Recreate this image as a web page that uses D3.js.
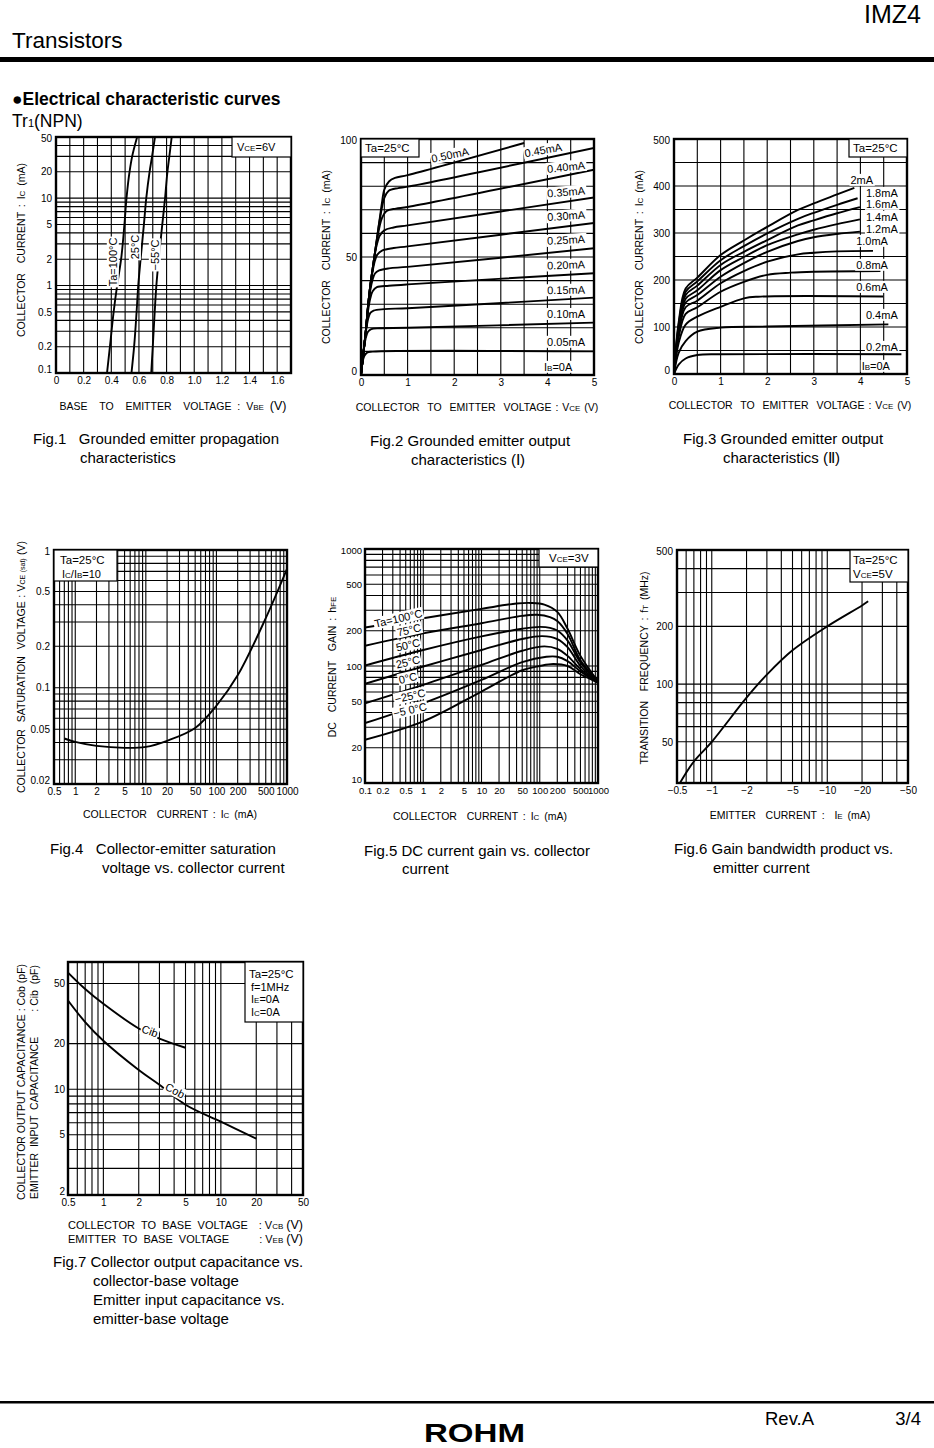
<!DOCTYPE html>
<html><head><meta charset="utf-8">
<script src="https://cdn.jsdelivr.net/npm/d3@7"></script>
<style>
body{margin:0;background:#fff;}
svg{font-family:"Liberation Sans", Arial, Helvetica, sans-serif;}
text{fill:#000;}
</style></head><body>
<svg id="page" width="934" height="1448"></svg>
<script>
// ---------------- DATA ----------------
// Fig.1  Ic vs Vbe (VCE=6V)
const fig1XTicks = [0,0.2,0.4,0.6,0.8,1.0,1.2,1.4,1.6];
const fig1YTicks = [0.1,0.2,0.5,1,2,5,10,20,50];
const fig1Ta100 = [[0.369,0.1],[0.39,0.2],[0.417,0.5],[0.442,1],[0.471,2],[0.495,5],[0.51,10],[0.532,20],[0.551,30],[0.587,50]];
const fig1Ta25  = [[0.546,0.1],[0.565,0.2],[0.583,0.5],[0.595,1],[0.612,2],[0.636,5],[0.653,10],[0.677,20],[0.695,30],[0.716,50]];
const fig1Tam55 = [[0.689,0.1],[0.700,0.2],[0.714,0.5],[0.726,1],[0.743,2],[0.769,5],[0.789,10],[0.806,20],[0.820,30],[0.837,50]];

// Fig.2  Ic vs Vce (IB = 0.05 ... 0.50 mA)
const fig2XTicks = [0,1,2,3,4,5];
const fig2YTicks = [0,50,100];
const fig2IB005 = [[0,0],[0.03,5],[0.07,8],[0.13,9.5],[0.25,9.9],[5,10]];
const fig2IB010 = [[0,0],[0.05,9],[0.1,15.5],[0.15,18.3],[0.22,19.4],[0.4,19.8],[1,20],[5,22.2]];
const fig2IB015 = [[0,0],[0.05,9],[0.1,17.5],[0.15,23.5],[0.2,26.3],[0.27,27.3],[0.5,27.9],[1,28.3],[5,32.8]];
const fig2IB020 = [[0,0],[0.05,9],[0.1,18],[0.15,27],[0.2,32.5],[0.25,35.5],[0.34,37.2],[0.6,37.8],[1,38.4],[5,43.1]];
const fig2IB025 = [[0,0],[0.05,9],[0.1,18],[0.15,28.5],[0.2,36],[0.25,40.5],[0.3,43],[0.39,44.3],[0.6,45.2],[1,45.8],[5,53.7]];
const fig2IB030 = [[0,0],[0.05,9],[0.1,18],[0.15,29],[0.2,37.5],[0.25,44],[0.3,48.5],[0.35,51],[0.46,52.8],[0.7,53.8],[1,54.5],[5,64.4]];
const fig2IB035 = [[0,0],[0.05,9],[0.1,18],[0.15,29],[0.2,38],[0.25,45],[0.3,51.5],[0.35,56],[0.4,59],[0.5,61.3],[0.7,62.5],[1,63.4],[5,75.2]];
const fig2IB040 = [[0,0],[0.05,9],[0.1,18],[0.15,29],[0.2,38],[0.25,45],[0.3,52],[0.35,58],[0.4,63],[0.45,66.5],[0.55,69.5],[0.75,70.5],[1,71.2],[5,87]];
const fig2IB045 = [[0,0],[0.05,9],[0.1,18],[0.15,29],[0.2,38],[0.25,45],[0.3,52],[0.35,59],[0.4,65.5],[0.45,71],[0.5,75],[0.59,78],[0.8,79.2],[1,79.8],[5,96.2]];
const fig2IB050 = [[0,0],[0.05,9],[0.1,18],[0.15,29],[0.2,38],[0.25,45],[0.3,52],[0.35,59],[0.4,66],[0.45,73],[0.5,78.5],[0.6,82],[0.73,83.5],[1,84.7],[3.5,98.3]];
const fig2Labels = ["0.50mA","0.45mA","0.40mA","0.35mA","0.30mA","0.25mA","0.20mA","0.15mA","0.10mA","0.05mA"];

// Fig.3  Ic vs Vce (IB = 0.2 ... 2 mA)
const fig3XTicks = [0,1,2,3,4,5];
const fig3YTicks = [0,100,200,300,400,500];
const fig3IB02 = [[0,0],[0.1,20],[0.25,33],[0.5,40.4],[1,42],[4.88,42]];
const fig3IB04 = [[0,0],[0.1,45],[0.25,70],[0.5,90],[1,98.6],[2,101],[4.6,105.5]];
const fig3IB06 = [[0,0],[0.1,66],[0.25,105],[0.5,122],[1,143],[1.5,161],[1.8,164.5],[4.49,165]];
const fig3IB08 = [[0,0],[0.1,78],[0.25,128],[0.5,142],[1,175],[1.5,196],[2,211],[2.5,215.6],[3,217.5],[4.43,219]];
const fig3IB10 = [[0,0],[0.1,85],[0.25,142],[0.5,156],[1,193],[1.5,219],[2,239],[2.66,254.6],[3,258],[3.5,261],[4.27,262]];
const fig3IB12 = [[0,0],[0.1,90],[0.25,152],[0.5,168],[1,207],[1.5,236],[2,260],[2.66,283],[3,291],[3.5,298],[3.99,303]];
const fig3IB14 = [[0,0],[0.1,95],[0.25,160],[0.5,178],[1,221],[1.5,249],[2,274],[2.66,297],[3,307],[3.5,319],[3.99,329]];
const fig3IB16 = [[0,0],[0.1,100],[0.25,168],[0.5,188],[1,232],[1.5,260],[2,285],[2.66,316],[3,327],[3.5,342],[3.99,355]];
const fig3IB18 = [[0,0],[0.1,105],[0.25,175],[0.5,197],[1,242],[1.5,272],[2,299],[2.66,330],[3,343],[3.5,360],[3.94,374]];
const fig3IB20 = [[0,0],[0.1,110],[0.25,182],[0.5,205],[1,253],[1.5,284],[2,313],[2.66,349],[3,363],[3.5,382],[3.87,396]];
const fig3Labels = ["2mA","1.8mA","1.6mA","1.4mA","1.2mA","1.0mA","0.8mA","0.6mA","0.4mA","0.2mA"];

// Fig.4  VCE(sat) vs Ic
const fig4XTicks = [0.5,1,2,5,10,20,50,100,200,500,1000];
const fig4YTicks = [0.02,0.05,0.1,0.2,0.5,1];
const fig4Vsat = [[0.7,0.0428],[1,0.0404],[2,0.0378],[5,0.0366],[10,0.0372],[20,0.0412],[50,0.051],[100,0.074],[200,0.123],[500,0.32],[1000,0.73]];

// Fig.5  hFE vs Ic
const fig5XTicks = [0.1,0.2,0.5,1,2,5,10,20,50,100,200,500,1000];
const fig5YTicks = [10,20,50,100,200,500,1000];
const fig5Ta100 = [[0.1,213],[1,256],[10,308],[40,342],[70,346],[120,335],[200,290],[300,208],[500,122],[1000,74]];
const fig5Ta75  = [[0.1,149],[1,190],[10,232],[50,268],[90,274],[150,262],[200,242],[300,188],[500,112],[1000,74]];
const fig5Ta50  = [[0.1,101],[1,137],[10,179],[50,208],[100,216],[150,212],[200,201],[300,165],[500,107],[1000,72]];
const fig5Ta25  = [[0.1,70.5],[1,99],[10,137],[50,170],[110,180],[200,170],[300,145],[500,100],[1000,72]];
const fig5Ta0   = [[0.1,48],[1,69],[10,102],[50,135],[120,147],[200,140],[300,122],[500,94],[1000,72]];
const fig5Tam25 = [[0.1,32.5],[1,48],[10,76],[50,108],[130,120],[200,120],[300,110],[500,90],[1000,72]];
const fig5Tam50 = [[0.1,23.4],[1,33.6],[10,60.5],[50,92],[100,100],[170,104],[300,100],[500,85],[1000,72]];
const fig5Labels = ["Ta=100°C","75°C","50°C","25°C","0°C","−25°C","−5 0°C"];

// Fig.6  fT vs IE
const fig6XTicks = [-0.5,-1,-2,-5,-10,-20,-50];
const fig6YTicks = [50,100,200,500];
const fig6fT = [[-0.53,30.5],[-0.7,39.5],[-1,50],[-2,85],[-3,112],[-5,150],[-10,200],[-20,257],[-22.6,270]];

// Fig.7  Cob / Cib vs V
const fig7XTicks = [0.5,1,2,5,10,20,50];
const fig7YTicks = [2,5,10,20,50];
const fig7YGrid = [2,3,4,5,6,7,8,9,10,20,50];
const fig7Cib = [[0.5,59],[0.7,46],[1,36.7],[2,25.2],[3,21.6],[5,18.8]];
const fig7Cob = [[0.5,38.6],[0.7,27.8],[1,20.9],[2,13.4],[3,10.7],[5,7.9],[10,6.1],[20,4.72]];

// ---------------- HELPERS ----------------
const svg = d3.select('#page');
let clipId = 0;

function logGrid(lo, hi){
  const out=[];
  for(let e=-3;e<=4;e++) for(let m=1;m<10;m++){
    const v=+(m*Math.pow(10,e)).toPrecision(3);
    if(v>=lo*0.999 && v<=hi*1.001) out.push(v);
  }
  return out;
}
function rangeStep(a,b,s){const o=[];for(let v=a;v<=b+1e-9;v+=s)o.push(+v.toFixed(4));return o;}

function rich(g, x, y, parts, o={}){
  const size=o.size||10, small=o.small||Math.round(size*0.72);
  const t=g.append('text')
    .attr('font-size',size)
    .attr('text-anchor',o.anchor||'start')
    .attr('transform',`translate(${x},${y}) rotate(${o.rotate||0})`)
    .style('white-space','pre');
  if(o.central) t.attr('dy','0.35em');
  if(o.ws!==undefined) t.attr('word-spacing',o.ws);
  if(o.ls) t.attr('letter-spacing',o.ls);
  parts.forEach(p=>{
    if(typeof p==='string') t.append('tspan').text(p);
    else t.append('tspan').attr('font-size',p[1]||small).text(p[0]);
  });
  if(o.bg){
    const b=t.node().getBBox();
    g.insert('rect',()=>t.node())
      .attr('x',b.x-1).attr('y',b.y).attr('width',b.width+2).attr('height',b.height)
      .attr('fill','#fff').attr('transform',t.attr('transform'));
  }
  return t;
}

function chart(cfg){
  const g=svg.append('g');
  const [x0,x1,y0,y1]=cfg.box;
  const xs=(cfg.xlog?d3.scaleLog():d3.scaleLinear()).domain(cfg.xdom).range([x0,x1]);
  const ys=(cfg.ylog?d3.scaleLog():d3.scaleLinear()).domain(cfg.ydom).range([y1,y0]);
  const id='clip'+(clipId++);
  g.append('clipPath').attr('id',id).append('rect').attr('x',x0).attr('y',y0).attr('width',x1-x0).attr('height',y1-y0);
  const grid=g.append('g').attr('stroke','#000').attr('stroke-width',1.1);
  grid.selectAll(null).data(cfg.xgrid).join('line')
    .attr('x1',d=>xs(d)).attr('x2',d=>xs(d)).attr('y1',y0).attr('y2',y1);
  grid.selectAll(null).data(cfg.ygrid).join('line')
    .attr('y1',d=>ys(d)).attr('y2',d=>ys(d)).attr('x1',x0).attr('x2',x1);
  const ax=g.append('g').attr('transform',`translate(0,${y1})`)
    .call(d3.axisBottom(xs).tickValues(cfg.xticks).tickSize(0).tickPadding(cfg.xpad||4).tickFormat(cfg.xfmt||(d=>String(d))));
  ax.select('.domain').remove();
  ax.selectAll('text').attr('font-size',cfg.tsize||10).attr('font-family',null);
  const ay=g.append('g').attr('transform',`translate(${x0},0)`)
    .call(d3.axisLeft(ys).tickValues(cfg.yticks).tickSize(0).tickPadding(cfg.ypad||4).tickFormat(cfg.yfmt||(d=>String(d))));
  ay.select('.domain').remove();
  ay.selectAll('text').attr('font-size',cfg.tsize||10).attr('font-family',null)
    .attr('y',d=>Math.abs(ys(d)-y1)<1?-3.5:(Math.abs(ys(d)-y0)<1?1.5:0));
  const line=d3.line().x(d=>xs(d[0])).y(d=>ys(d[1])).curve(cfg.curve||d3.curveCatmullRom.alpha(0.5));
  const cg=g.append('g').attr('clip-path',`url(#${id})`);
  cfg.series.forEach(s=>{
    cg.append('path').datum(s).attr('d',line).attr('fill','none').attr('stroke','#000').attr('stroke-width',1.9).attr('stroke-linejoin','round');
  });
  g.append('rect').attr('x',x0).attr('y',y0).attr('width',x1-x0).attr('height',y1-y0)
    .attr('fill','none').attr('stroke','#000').attr('stroke-width',2.4);
  return {g,xs,ys};
}
function legendBox(g, x, y, w, h){
  g.append('rect').attr('x',x).attr('y',y).attr('width',w).attr('height',h).attr('fill','#fff').attr('stroke','#000').attr('stroke-width',1.2);
}
const TS=10.5, WS=2;

// ---------------- PAGE HEADER ----------------
svg.append('text').attr('x',921).attr('y',23).attr('text-anchor','end').attr('font-size',25).text('IMZ4');
svg.append('text').attr('x',12).attr('y',48).attr('font-size',22.5).text('Transistors');
svg.append('rect').attr('x',0).attr('y',57).attr('width',934).attr('height',5).attr('fill','#000');
svg.append('text').attr('x',12).attr('y',105).attr('font-size',17.5).attr('font-weight','bold').text('●Electrical characteristic curves');
rich(svg,12,127,['Tr',['1',11],'(NPN)'],{size:17.5});

// ---------------- FIG 1 ----------------
{
  const c=chart({box:[56,291,137,373],xdom:[0,1.7],ydom:[0.1,50],ylog:true,
    xgrid:rangeStep(0,1.7,0.1),ygrid:logGrid(0.1,50),xticks:fig1XTicks,yticks:fig1YTicks,
    xfmt:d=>d===0?'0':d.toFixed(1),series:[fig1Ta100,fig1Ta25,fig1Tam55],curve:d3.curveMonotoneY});
  const {g,xs,ys}=c;
  legendBox(g,232,137,59,20);
  rich(g,237,151,['V',['CE'],'=6V'],{size:11});
  rich(g,xs(0.412),ys(1.86),['Ta=100°C'],{size:11,anchor:'middle',rotate:-90,central:true,bg:true});
  rich(g,xs(0.572),ys(2.76),['25°C'],{size:11,anchor:'middle',rotate:-90,central:true,bg:true});
  rich(g,xs(0.716),ys(2.24),['−55°C'],{size:11,anchor:'middle',rotate:-90,central:true,bg:true});
  rich(g,25,250,['COLLECTOR  CURRENT : I',['C'],' (mA)'],{size:TS,anchor:'middle',rotate:-90,ws:WS});
  rich(g,173,410,['BASE  TO  EMITTER  VOLTAGE : V',['BE'],' ',['(V)',12.5]],{size:TS,anchor:'middle',ws:WS+1});
  rich(g,33,444,['Fig.1   Grounded emitter propagation'],{size:15});
  rich(g,80,463,['characteristics'],{size:15});
}

// ---------------- FIG 2 ----------------
{
  const c=chart({box:[361,594,139,375],xdom:[0,5],ydom:[0,100],
    xgrid:rangeStep(0,5,0.5),ygrid:rangeStep(0,100,10),xticks:fig2XTicks,yticks:fig2YTicks,
    series:[fig2IB005,fig2IB010,fig2IB015,fig2IB020,fig2IB025,fig2IB030,fig2IB035,fig2IB040,fig2IB045,fig2IB050]});
  const {g,xs,ys}=c;
  legendBox(g,361,139,58,18);
  rich(g,365,152,['Ta=25°C'],{size:11.5});
  const pos=[[1.91,93.2,-12],[3.91,95.3,-10],[4.4,88.1,-6],[4.4,77.5,-5],[4.4,67.4,-4],[4.4,57.2,-3],[4.4,46.6,-2],[4.4,36,-1],[4.4,25.8,0],[4.4,14,0]];
  fig2Labels.forEach((t,i)=>rich(g,xs(pos[i][0]),ys(pos[i][1]),[t],{size:11,anchor:'middle',central:true,rotate:pos[i][2],bg:true}));
  rich(g,xs(4.23),ys(3.4),['I',['B'],'=0A'],{size:11,anchor:'middle',central:true,bg:true});
  rich(g,330,257,['COLLECTOR  CURRENT : I',['C'],' (mA)'],{size:TS,anchor:'middle',rotate:-90,ws:WS});
  rich(g,477,411,['COLLECTOR  TO  EMITTER  VOLTAGE : V',['CE'],' (V)'],{size:TS,anchor:'middle',ws:1});
  rich(g,370,446,['Fig.2 Grounded emitter output'],{size:15});
  rich(g,411,465,['characteristics (Ⅰ)'],{size:15});
}

// ---------------- FIG 3 ----------------
{
  const c=chart({box:[674,907,139,374],xdom:[0,5],ydom:[0,500],
    xgrid:rangeStep(0,5,0.5),ygrid:rangeStep(0,500,50),xticks:fig3XTicks,yticks:fig3YTicks,
    series:[fig3IB02,fig3IB04,fig3IB06,fig3IB08,fig3IB10,fig3IB12,fig3IB14,fig3IB16,fig3IB18,fig3IB20]});
  const {g,xs,ys}=c;
  legendBox(g,849,139,58,18);
  rich(g,853,152,['Ta=25°C'],{size:11.5});
  const pos=[[4.03,412.8],[4.46,385],[4.46,361.7],[4.46,334],[4.46,308.5],[4.25,283],[4.25,232],[4.25,185],[4.46,125.5],[4.46,57.4]];
  fig3Labels.forEach((t,i)=>rich(g,xs(pos[i][0]),ys(pos[i][1]),[t],{size:11,anchor:'middle',central:true,bg:true}));
  rich(g,xs(4.33),ys(17),['I',['B'],'=0A'],{size:11,anchor:'middle',central:true,bg:true});
  rich(g,643,257,['COLLECTOR  CURRENT : I',['C'],' (mA)'],{size:TS,anchor:'middle',rotate:-90,ws:WS});
  rich(g,790,409,['COLLECTOR  TO  EMITTER  VOLTAGE : V',['CE'],' (V)'],{size:TS,anchor:'middle',ws:1});
  rich(g,683,444,['Fig.3 Grounded emitter output'],{size:15});
  rich(g,723,463,['characteristics (Ⅱ)'],{size:15});
}

// ---------------- FIG 4 ----------------
{
  const c=chart({box:[54,287,550,784],xdom:[0.5,1000],xlog:true,ydom:[0.02,1],ylog:true,
    xgrid:logGrid(0.5,1000),ygrid:logGrid(0.02,1),xticks:fig4XTicks,yticks:fig4YTicks,
    series:[fig4Vsat]});
  const {g}=c;
  legendBox(g,54,550,63,31);
  rich(g,60,564,['Ta=25°C'],{size:11.5});
  rich(g,62,578,['I',['C'],'/I',['B'],'=10'],{size:11});
  rich(g,25,667,['COLLECTOR  SATURATION  VOLTAGE : V',['CE (sat)',7],' (V)'],{size:TS,anchor:'middle',rotate:-90,ws:0.5});
  rich(g,170,818,['COLLECTOR  CURRENT : I',['C'],' (mA)'],{size:TS,anchor:'middle',ws:WS});
  rich(g,50,854,['Fig.4   Collector-emitter saturation'],{size:15});
  rich(g,102,873,['voltage vs. collector current'],{size:15});
}

// ---------------- FIG 5 ----------------
{
  const c=chart({box:[365,598,549,783],xdom:[0.1,1000],xlog:true,ydom:[10,1000],ylog:true,
    xgrid:logGrid(0.1,1000),ygrid:logGrid(10,1000),xticks:fig5XTicks,yticks:fig5YTicks,ypad:3,tsize:9.5,
    series:[fig5Ta100,fig5Ta75,fig5Ta50,fig5Ta25,fig5Ta0,fig5Tam25,fig5Tam50]});
  const {g,xs,ys}=c;
  legendBox(g,539,549,59,18);
  rich(g,549,562,['V',['CE'],'=3V'],{size:11.5});
  const pos=[[0.376,254.7],[0.569,203],[0.547,151],[0.547,108],[0.547,78.9],[0.593,55.4],[0.593,42.1]];
  fig5Labels.forEach((t,i)=>rich(g,xs(pos[i][0]),ys(pos[i][1]),[t],{size:11,anchor:'middle',central:true,rotate:-13,bg:true}));
  rich(g,336,667,['DC  CURRENT  GAIN : h',['FE']],{size:TS,anchor:'middle',rotate:-90,ws:WS});
  rich(g,480,820,['COLLECTOR  CURRENT : I',['C'],' (mA)'],{size:TS,anchor:'middle',ws:WS});
  rich(g,364,856,['Fig.5 DC current gain vs. collector'],{size:15});
  rich(g,402,874,['current'],{size:15});
}

// ---------------- FIG 6 ----------------
{
  const xgrid=logGrid(0.5,50).map(v=>-v);
  const c=chart({box:[677,908,550,783],xdom:[-0.5,-50],xlog:true,ydom:[30.5,500],ylog:true,
    xgrid:xgrid,ygrid:logGrid(30.5,500),xticks:fig6XTicks,yticks:fig6YTicks,
    xfmt:d=>'−'+Math.abs(d),series:[fig6fT]});
  const {g}=c;
  legendBox(g,850,550,58,32);
  rich(g,853,564,['Ta=25°C'],{size:11.5});
  rich(g,853,578,['V',['CE'],'=5V'],{size:11.5});
  rich(g,648,668,['TRANSITION  FREQUENCY : f',['T'],' (MHz)'],{size:TS,anchor:'middle',rotate:-90,ws:WS});
  rich(g,790,819,['EMITTER  CURRENT :  I',['E'],' (mA)'],{size:TS,anchor:'middle',ws:WS});
  rich(g,674,854,['Fig.6 Gain bandwidth product vs.'],{size:15});
  rich(g,713,873,['emitter current'],{size:15});
}

// ---------------- FIG 7 ----------------
{
  const c=chart({box:[68,303,962,1195],xdom:[0.5,50],xlog:true,ydom:[2,69.3],ylog:true,
    xgrid:logGrid(0.5,50),ygrid:fig7YGrid,xticks:fig7XTicks,yticks:fig7YTicks,ypad:3,
    series:[fig7Cib,fig7Cob]});
  const {g,xs,ys}=c;
  legendBox(g,245,962,58,60);
  rich(g,249,978,['Ta=25°C'],{size:11.5});
  rich(g,251,991,['f=1MHz'],{size:11});
  rich(g,251,1003,['I',['E'],'=0A'],{size:11});
  rich(g,251,1016,['I',['C'],'=0A'],{size:11});
  rich(g,xs(2.49),ys(24.2),['Cib'],{size:11,anchor:'middle',central:true,rotate:20,bg:true});
  rich(g,xs(4.07),ys(9.78),['Cob'],{size:11,anchor:'middle',central:true,rotate:28,bg:true});
  rich(g,25,1082,['COLLECTOR OUTPUT CAPACITANCE : Cob (pF)'],{size:10.5,anchor:'middle',rotate:-90});
  rich(g,38,1199,['EMITTER  INPUT  CAPACITANCE'],{size:10.5,rotate:-90});
  rich(g,38,965,[': Cib  (pF)'],{size:10.5,anchor:'end',rotate:-90});
  rich(g,68,1229,['COLLECTOR  TO  BASE  VOLTAGE'],{size:11,ws:0});
  rich(g,303,1229,[': V',['CB'],' ',['(V)',12.5]],{size:11,anchor:'end'});
  rich(g,68,1243,['EMITTER  TO  BASE  VOLTAGE'],{size:11,ws:0});
  rich(g,303,1243,[': V',['EB'],' ',['(V)',12.5]],{size:11,anchor:'end'});
  rich(g,53,1267,['Fig.7 Collector output capacitance vs.'],{size:15});
  rich(g,93,1286,['collector-base voltage'],{size:15});
  rich(g,93,1305,['Emitter input capacitance vs.'],{size:15});
  rich(g,93,1324,['emitter-base voltage'],{size:15});
}

// ---------------- FOOTER ----------------
svg.append('rect').attr('x',0).attr('y',1401).attr('width',934).attr('height',2.5).attr('fill','#000');
svg.append('text').attr('x',765).attr('y',1425).attr('font-size',18.5).text('Rev.A');
svg.append('text').attr('x',921).attr('y',1425).attr('text-anchor','end').attr('font-size',18.5).text('3/4');
svg.append('text').attr('x',424).attr('y',1442).attr('font-size',26).attr('font-weight','900')
  .attr('textLength',101).attr('lengthAdjust','spacingAndGlyphs').text('ROHM');
</script>
</body></html>
